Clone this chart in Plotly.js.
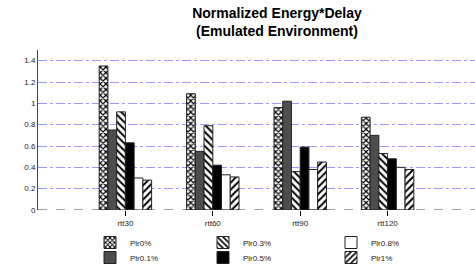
<!DOCTYPE html>
<html><head><meta charset="utf-8">
<script src="https://cdn.plot.ly/plotly-3.0.1.min.js"></script>
<style>html,body{margin:0;padding:0;background:#fff}</style>
</head><body>
<div id="chart" style="width:475px;height:268px"></div>
<script>
const categories = ["rtt30", "rtt60", "rtt90", "rtt120"];
const seriesNames = ["Plr0%", "Plr0.1%", "Plr0.3%", "Plr0.5%", "Plr0.8%", "Plr1%"];
const plr0   = [1.35, 1.09, 0.96, 0.87];
const plr01  = [0.75, 0.55, 1.02, 0.70];
const plr03  = [0.92, 0.79, 0.36, 0.53];
const plr05  = [0.63, 0.42, 0.59, 0.48];
const plr08  = [0.30, 0.33, 0.38, 0.40];
const plr1   = [0.28, 0.31, 0.45, 0.38];
const yTicks = [0, 0.2, 0.4, 0.6, 0.8, 1, 1.2, 1.4];
const yTickText = ["0", "0.2", "0.4", "0.6", "0.8", "1", "1.2", "1.4"];

const values = [plr0, plr01, plr03, plr05, plr08, plr1];
const styles = [
  {color:'#ffffff', pattern:{shape:'x', fgcolor:'#000', bgcolor:'#fff', size:4, solidity:0.5}},
  {color:'#4d4d4d'},
  {color:'#ffffff', pattern:{shape:'\\', fgcolor:'#000', bgcolor:'#fff', size:5, solidity:0.4}},
  {color:'#000000'},
  {color:'#ffffff'},
  {color:'#ffffff', pattern:{shape:'/', fgcolor:'#000', bgcolor:'#fff', size:5, solidity:0.4}}
];
const legendPos = [
  {x:90, y:228}, {x:90, y:243},
  {x:203, y:228}, {x:203, y:243},
  {x:331, y:228}, {x:331, y:243}
];

const traces = values.map((v, i) => ({
  type:'bar', x:categories, y:v, name:seriesNames[i],
  legend: i === 0 ? 'legend' : 'legend' + (i + 1),
  marker:Object.assign({line:{color:'#222', width:1}}, styles[i]),
  hoverinfo:'skip'
}));

const layout = {
  width:475, height:268,
  margin:{l:38, r:0, t:50, b:58, autoexpand:false},
  paper_bgcolor:'#fff', plot_bgcolor:'#fff',
  font:{family:'Liberation Sans, Arial, sans-serif', size:8, color:'#222'},
  title:{text:'<b>Normalized Energy*Delay<br>(Emulated Environment)</b>',
         font:{size:14, color:'#000'}, xref:'container', yref:'container',
         x:277/475, xanchor:'center', y:1 - 18/268, yanchor:'middle'},
  barmode:'group', bargap:0.4, bargroupgap:0,
  xaxis:{type:'category', range:[-1, 4], showgrid:false, zeroline:false, showline:false,
         ticks:'outside', ticklen:5, tickcolor:'#000', tickfont:{size:8}, tickangle:0, automargin:false},
  yaxis:{range:[0, 1.5], tickvals:yTicks, ticktext:yTickText, showgrid:true,
         gridcolor:'#9999ff', griddash:'dashdot', gridwidth:1, zeroline:false,
         showline:true, linecolor:'#444', linewidth:1, ticks:'', tickfont:{size:8}, automargin:false},
  shapes:[{type:'line', xref:'paper', x0:0, x1:1, yref:'y', y0:0, y1:0,
           line:{color:'#444', width:1, dash:'dash'}}],
  showlegend:true
};
legendPos.forEach((p, i) => {
  const key = i === 0 ? 'legend' : 'legend' + (i + 1);
  layout[key] = {xref:'container', yref:'container', x:p.x/475, y:1 - p.y/268,
    xanchor:'left', yanchor:'top', bgcolor:'rgba(0,0,0,0)', borderwidth:0,
    font:{size:8, color:'#222'}};
});

Plotly.newPlot('chart', traces, layout, {displayModeBar:false, staticPlot:true});
</script>
</body></html>
